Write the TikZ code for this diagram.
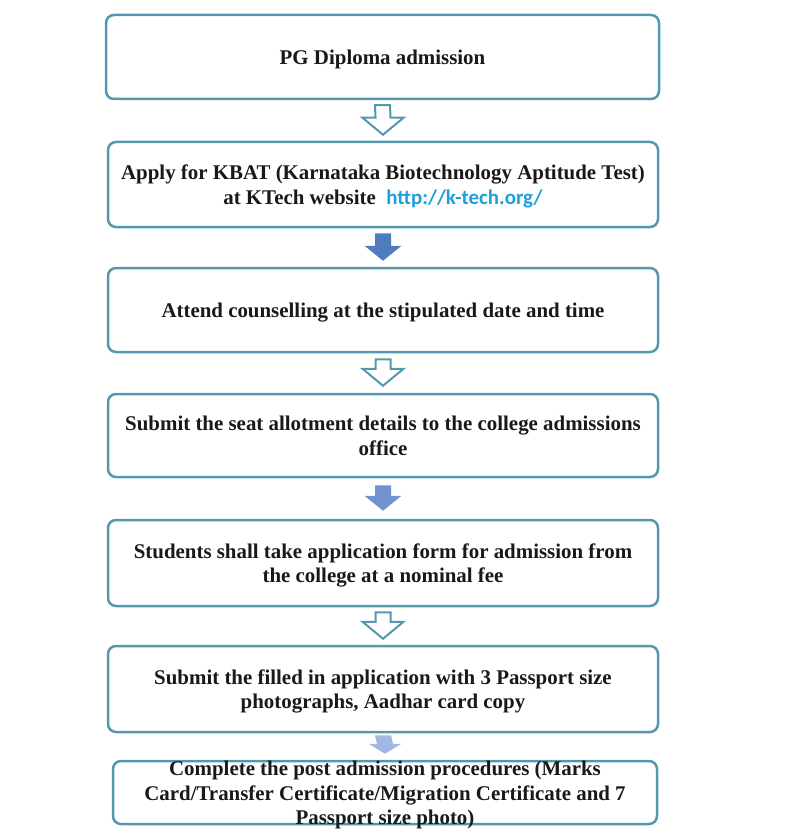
\documentclass[tikz,border=0pt]{standalone}
\usepackage{fontspec}
\setmainfont{Liberation Serif}
\newfontfamily\urlfont{Carlito}
\usetikzlibrary{calc}
\definecolor{boxline}{RGB}{84,152,176}
\definecolor{txt}{RGB}{25,25,25}
\definecolor{arrA}{RGB}{79,124,190}
\definecolor{arrB}{RGB}{112,146,205}
\definecolor{arrC}{RGB}{162,184,226}
\definecolor{urlc}{RGB}{28,160,222}
\newcommand{\steptext}[1]{\raisebox{-8pt}[0pt][0pt]{\fontsize{20.9}{24.5}\selectfont\bfseries\begin{tabular}{@{}c@{}}#1\end{tabular}}}
% from, to, style, gap top, gap bottom, head length, shaft half width, head half width
\newcommand{\flowarrow}[8]{%
  \path (#1.south) ++(0,#4) coordinate (fs);
  \path (#2.north) ++(0,-#5) coordinate (ft);
  \draw[#3] ($(fs)+(-#7,0)$) -- ($(fs)+(#7,0)$) -- ($(ft)+(#7,-#6)$) -- ($(ft)+(#8,-#6)$) -- (ft) -- ($(ft)+(-#8,-#6)$) -- ($(ft)+(-#7,-#6)$) -- cycle;}
\tikzset{
  stepbox/.style={draw=boxline, line width=2.5pt, rounded corners=8pt, fill=white,
    minimum width=550pt, minimum height=84pt, inner sep=0pt, text=txt},
  hollowarrow/.style={draw=boxline, line width=2pt, fill=white, line join=miter},
  fillarrow/.style={draw=none, fill=#1},
}
\begin{document}
\begin{tikzpicture}[x=1pt,y=-1pt]
\useasboundingbox (0,0) rectangle (801,837);
\node[stepbox, minimum width=553pt] (s1) at (382.5,57) {\steptext{PG Diploma admission}};
\node[stepbox, minimum height=85pt] (s2) at (383,184.5) {\steptext{Apply for KBAT (Karnataka Biotechnology Aptitude Test)\\ at KTech website\ \ {\urlfont\color{urlc}http://k-tech.org/}}};
\node[stepbox] (s3) at (383,310) {\steptext{Attend counselling at the stipulated date and time}};
\node[stepbox, minimum height=83pt] (s4) at (383,435.5) {\steptext{Submit the seat allotment details to the college admissions\\ office}};
\node[stepbox, minimum height=86pt] (s5) at (383,563) {\steptext{Students shall take application form for admission from\\ the college at a nominal fee}};
\node[stepbox, minimum height=86pt] (s6) at (383,689) {\steptext{Submit the filled in application with 3 Passport size\\ photographs, Aadhar card copy}};
\node[stepbox, minimum width=544pt, minimum height=63pt] (s7) at (385,792.5) {\steptext{Complete the post admission procedures (Marks\\ Card/Transfer Certificate/Migration Certificate and 7\\ Passport size photo)}};
\flowarrow{s1}{s2}{hollowarrow}{5}{6}{17}{7.5}{20.5}
\flowarrow{s2}{s3}{fillarrow=arrA}{5}{6}{15}{8}{18.5}
\flowarrow{s3}{s4}{hollowarrow}{6}{7}{17}{7.5}{20.5}
\flowarrow{s4}{s5}{fillarrow=arrB}{7}{8}{15}{8}{18.5}
\flowarrow{s5}{s6}{hollowarrow}{5}{6}{17}{7.5}{20.5}
\flowarrow{s6}{s7}{fillarrow=arrC}{2}{6}{10}{8}{16.5}
\end{tikzpicture}
\end{document}
